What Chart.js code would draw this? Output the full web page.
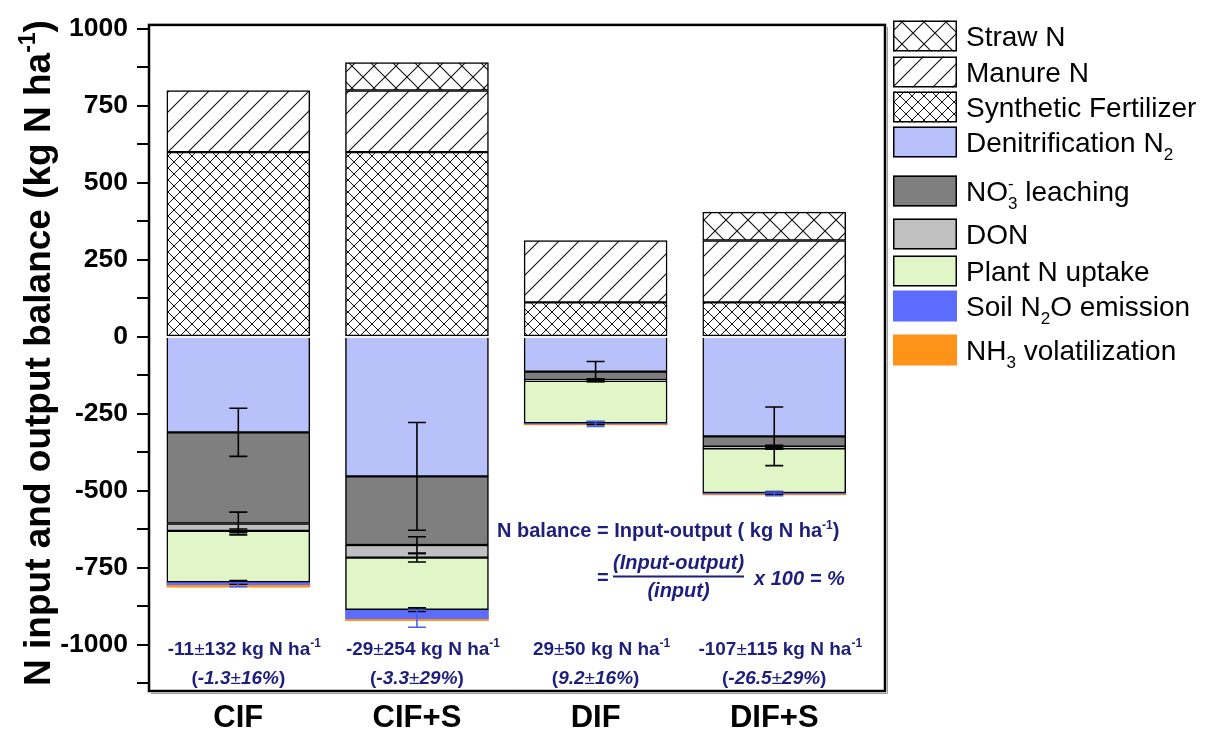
<!DOCTYPE html>
<html>
<head>
<meta charset="utf-8">
<script src="https://cdn.jsdelivr.net/npm/chart.js@4.4.1/dist/chart.umd.min.js"></script>
<style>
  html, body { margin: 0; padding: 0; background: #fff; }
  #wrap { width: 1213px; height: 730px; position: relative; }
</style>
</head>
<body>
<div id="wrap"><canvas id="c" width="1213" height="730"></canvas></div>
<script>
// ---- data ----
const categories = ['CIF', 'CIF+S', 'DIF', 'DIF+S'];

// N inputs (kg N ha-1)
const syntheticFertilizer = [600, 600, 112, 112];
const manureN = [200, 200, 201, 201];
const strawN = [null, 91, null, 92];

// N outputs (kg N ha-1)
const denitrificationN2 = [-310, -453, -113, -323];
const no3Leaching = [-296, -223, -27, -34];
const donLoss = [-24, -41, -3, -5];
const plantUptake = [-167, -169, -137, -145];
const n2oEmission = [-8, -29, -3, -3];
const nh3Volatilization = [-8, -7, -3, -3];

// standard deviations of the outputs
const denitrificationSd = [78, 175, 33, 95];
const no3Sd = [37, 27, 4, 5];
const donSd = [6, 14, 2, 3];
const plantSd = [6, 6, 5, 5];
const n2oSd = [6, 28, 8, 6];

// N balance per treatment
const balanceMean = ['-11', '-29', '29', '-107'];
const balanceSd = ['132', '254', '50', '115'];
const balancePct = ['-1.3', '-3.3', '9.2', '-26.5'];
const balancePctSd = ['16%', '29%', '16%', '29%'];

const yTickValues = [-1125, -1000, -875, -750, -625, -500, -375, -250, -125,
                     0, 125, 250, 375, 500, 625, 750, 875, 1000];

// ---- styling ----
const FAMILY = '"Liberation Sans", Arial, sans-serif';
const NAVY = '#1e1e7c';
const font = (size, weight = 'normal', style = 'normal') => `${style} ${weight} ${size}px ${FAMILY}`;

const canvas = document.getElementById('c');
const ctx = canvas.getContext('2d');

function hatch(period, cross, lw) {
  const c = document.createElement('canvas');
  c.width = c.height = period;
  const g = c.getContext('2d');
  g.fillStyle = '#fff';
  g.fillRect(0, 0, period, period);
  g.strokeStyle = '#111';
  g.lineWidth = lw;
  g.beginPath();
  g.moveTo(-2, period + 2); g.lineTo(period + 2, -2);
  g.moveTo(-2, 2); g.lineTo(2, -2);
  g.moveTo(period - 2, period + 2); g.lineTo(period + 2, period - 2);
  if (cross) {
    g.moveTo(-2, -2); g.lineTo(period + 2, period + 2);
    g.moveTo(period - 2, -2); g.lineTo(period + 2, 2);
    g.moveTo(-2, period - 2); g.lineTo(2, period + 2);
  }
  g.stroke();
  return ctx.createPattern(c, 'repeat');
}

const strawFill = hatch(22, true, 1.1);
const manureFill = hatch(20, false, 1.1);
const syntheticFill = hatch(12, true, 1.0);
const COLORS = {
  den: '#b9c1fb',
  no3: '#7f7f7f',
  don: '#c0c0c0',
  plant: '#e0f6c6',
  n2o: '#5b6cff',
  nh3: '#ff9218'
};

function series(label, values, fill, bordered, skip) {
  return {
    label,
    data: values.map((v, i) => ({ x: i + 1, y: v })),
    backgroundColor: fill,
    borderColor: '#000',
    borderWidth: bordered ? 1.5 : 0,
    borderSkipped: skip || false,
    barThickness: 143
  };
}

// ---- rich text (sub/superscripts, mixed weights) ----
function measureRuns(g, runs) {
  let w = 0, hold = 0;
  runs.forEach(r => {
    g.font = r.font;
    r.w = g.measureText(r.t).width;
    if (r.stay) { hold = r.w; return; }
    w += Math.max(r.w, hold);
    hold = 0;
  });
  return w;
}
function drawRuns(g, runs, x, baseline, align, color) {
  const total = measureRuns(g, runs);
  let cx = align === 'center' ? x - total / 2 : (align === 'right' ? x - total : x);
  g.fillStyle = color;
  g.textAlign = 'left';
  g.textBaseline = 'alphabetic';
  let hold = 0;
  runs.forEach(r => {
    g.font = r.font;
    g.fillText(r.t, cx, baseline + (r.dy || 0));
    if (r.stay) { hold = r.w; return; }
    cx += Math.max(r.w, hold);
    hold = 0;
  });
  return total;
}
const T = (t, size, weight, style) => ({ t, font: font(size, weight, style) });
const SUP = (t, size, weight, style) => ({ t, font: font(Math.round(size * 0.62), weight, style), dy: -size * 0.42 });
const SUB = (t, size, weight, style, stay) => ({ t, font: font(Math.round(size * 0.62), weight, style), dy: size * 0.28, stay: !!stay });

// ---- legend ----
const LS = 28;
const legendItems = [
  { fill: strawFill, border: true, y: 36, runs: [T('Straw N', LS)] },
  { fill: manureFill, border: true, y: 72, runs: [T('Manure N', LS)] },
  { fill: syntheticFill, border: true, y: 107, runs: [T('Synthetic Fertilizer', LS)] },
  { fill: COLORS.den, border: true, y: 142, runs: [T('Denitrification N', LS), SUB('2', LS)] },
  { fill: COLORS.no3, border: true, y: 191, runs: [T('NO', LS), SUB('3', LS, 'normal', 'normal', true), SUP('-', LS), T(' leaching', LS)] },
  { fill: COLORS.don, border: true, y: 234, runs: [T('DON', LS)] },
  { fill: COLORS.plant, border: true, y: 271, runs: [T('Plant N uptake', LS)] },
  { fill: COLORS.n2o, border: false, y: 306, runs: [T('Soil N', LS), SUB('2', LS), T('O emission', LS)] },
  { fill: COLORS.nh3, border: false, y: 350, runs: [T('NH', LS), SUB('3', LS), T(' volatilization', LS)] }
];

const legendPlugin = {
  id: 'sideLegend',
  afterDraw(chart) {
    const g = chart.ctx;
    g.save();
    legendItems.forEach(it => {
      const x0 = 893, w = 64, h = 31, y0 = it.y - h / 2;
      g.fillStyle = it.fill;
      g.fillRect(x0, y0, w, h);
      if (it.border) {
        g.strokeStyle = '#000';
        g.lineWidth = 1.5;
        g.strokeRect(x0 + 0.75, y0 + 0.75, w - 1.5, h - 1.5);
      }
      drawRuns(g, it.runs, 966, it.y + LS * 0.36, 'left', '#000');
    });
    g.restore();
  }
};

// ---- error bars at the lower end of each output segment ----
const errorSeries = [
  { values: denitrificationN2, sd: denitrificationSd, color: '#000' },
  { values: no3Leaching, sd: no3Sd, color: '#000' },
  { values: donLoss, sd: donSd, color: '#000' },
  { values: plantUptake, sd: plantSd, color: '#000' },
  { values: n2oEmission, sd: n2oSd, color: '#4a5ef2' }
];
const errorBarPlugin = {
  id: 'errorBars',
  afterDatasetsDraw(chart) {
    const g = chart.ctx, xs = chart.scales.x, ys = chart.scales.y;
    const running = categories.map(() => 0);
    g.save();
    g.lineWidth = 1.6;
    errorSeries.forEach(s => {
      categories.forEach((c, j) => {
        running[j] += s.values[j];
        const sd = s.sd[j];
        const x = xs.getPixelForValue(j + 1);
        const yt = ys.getPixelForValue(running[j] + sd);
        const yb = ys.getPixelForValue(running[j] - sd);
        g.strokeStyle = s.color;
        g.beginPath();
        g.moveTo(x, yt); g.lineTo(x, yb);
        g.moveTo(x - 9, yt); g.lineTo(x + 9, yt);
        g.moveTo(x - 9, yb); g.lineTo(x + 9, yb);
        g.stroke();
      });
    });
    g.restore();
  }
};

// ---- frame, axis title and balance annotations ----
const decorPlugin = {
  id: 'decor',
  afterDraw(chart) {
    const g = chart.ctx, a = chart.chartArea, xs = chart.scales.x;
    g.save();
    // plot frame
    g.strokeStyle = '#999';
    g.lineWidth = 1;
    g.beginPath();
    g.moveTo(a.right + 2.5, a.top + 2); g.lineTo(a.right + 2.5, a.bottom + 2.5); g.lineTo(a.left + 2, a.bottom + 2.5);
    g.stroke();
    g.strokeStyle = '#000';
    g.lineWidth = 2.5;
    g.strokeRect(a.left, a.top, a.right - a.left, a.bottom - a.top);

    // y axis title
    const TS = 37;
    g.translate(37, 353);
    g.rotate(-Math.PI / 2);
    drawRuns(g, [T('N input and output balance (kg N ha', TS, 'bold'), SUP('-1', TS, 'bold'), T(')', TS, 'bold')],
             0, TS * 0.36, 'center', '#000');
    g.setTransform(1, 0, 0, 1, 0, 0);

    // N balance below each bar
    const BS = 19;
    categories.forEach((c, j) => {
      const x = xs.getPixelForValue(j + 1);
      drawRuns(g, [T(balanceMean[j], BS, 'bold'), T('±', BS), T(balanceSd[j] + ' kg N ha', BS, 'bold'), SUP('-1', BS, 'bold')],
               x + 6, 655, 'center', NAVY);
      drawRuns(g, [T('(', BS, 'bold'), T(balancePct[j], BS, 'bold', 'italic'), T('±', BS),
                   T(balancePctSd[j], BS, 'bold', 'italic'), T(')', BS, 'bold')],
               x, 684, 'center', NAVY);
    });

    // balance definition
    const FS = 20;
    drawRuns(g, [T('N balance = Input-output ( kg N ha', FS, 'bold'), SUP('-1', FS, 'bold'), T(')', FS, 'bold')],
             497, 537, 'left', NAVY);
    drawRuns(g, [T('=', FS, 'bold')], 597, 584, 'left', NAVY);
    const wNum = drawRuns(g, [T('(Input-output)', FS, 'bold', 'italic')], 613, 569, 'left', NAVY);
    g.strokeStyle = NAVY;
    g.lineWidth = 1.8;
    g.beginPath();
    g.moveTo(613, 576.5); g.lineTo(613 + wNum, 576.5);
    g.stroke();
    drawRuns(g, [T('(input)', FS, 'bold', 'italic')], 613 + wNum / 2, 597, 'center', NAVY);
    drawRuns(g, [T('x 100 = %', FS, 'bold', 'italic')], 613 + wNum + 10, 585, 'left', NAVY);
    g.restore();
  }
};

const datasets = [
  series('Synthetic Fertilizer', syntheticFertilizer, syntheticFill, true),
  series('Manure N', manureN, manureFill, true),
  series('Straw N', strawN, strawFill, true),
  series('Denitrification N2', denitrificationN2, COLORS.den, true, 'start'),
  series('NO3- leaching', no3Leaching, COLORS.no3, true),
  series('DON', donLoss, COLORS.don, true),
  series('Plant N uptake', plantUptake, COLORS.plant, true),
  series('Soil N2O emission', n2oEmission, COLORS.n2o, false),
  series('NH3 volatilization', nh3Volatilization, COLORS.nh3, false)
];

new Chart(canvas, {
  type: 'bar',
  data: { datasets },
  plugins: [errorBarPlugin, decorPlugin, legendPlugin],
  options: {
    responsive: false,
    animation: false,
    devicePixelRatio: 1,
    layout: { padding: { top: 20, right: 328, left: 0, bottom: 0 } },
    plugins: { legend: { display: false }, tooltip: { enabled: false } },
    scales: {
      x: {
        type: 'linear',
        stacked: true,
        offset: false,
        min: 0.5,
        max: 4.62,
        afterBuildTicks: s => { s.ticks = categories.map((c, i) => ({ value: i + 1 })); },
        afterFit: s => { s.height = 39; },
        ticks: {
          autoSkip: false,
          maxRotation: 0,
          padding: 9,
          color: '#000',
          font: { family: FAMILY, size: 31, weight: 'bold' },
          callback: v => categories[Math.round(v) - 1]
        },
        grid: { display: false, drawTicks: false, offset: false },
        border: { display: false }
      },
      y: {
        stacked: true,
        min: -1150,
        max: 1013,
        afterBuildTicks: s => { s.ticks = yTickValues.map(v => ({ value: v })); },
        afterFit: s => { s.width = 149; },
        ticks: {
          autoSkip: false,
          padding: 9,
          color: '#000',
          font: { family: FAMILY, size: 26.5, weight: 'bold' },
          callback: v => (v % 250 === 0 ? String(v) : '')
        },
        grid: { drawOnChartArea: false, drawTicks: true, tickLength: 12, color: '#000', lineWidth: 2 },
        border: { display: false }
      }
    }
  }
});
</script>
</body>
</html>
